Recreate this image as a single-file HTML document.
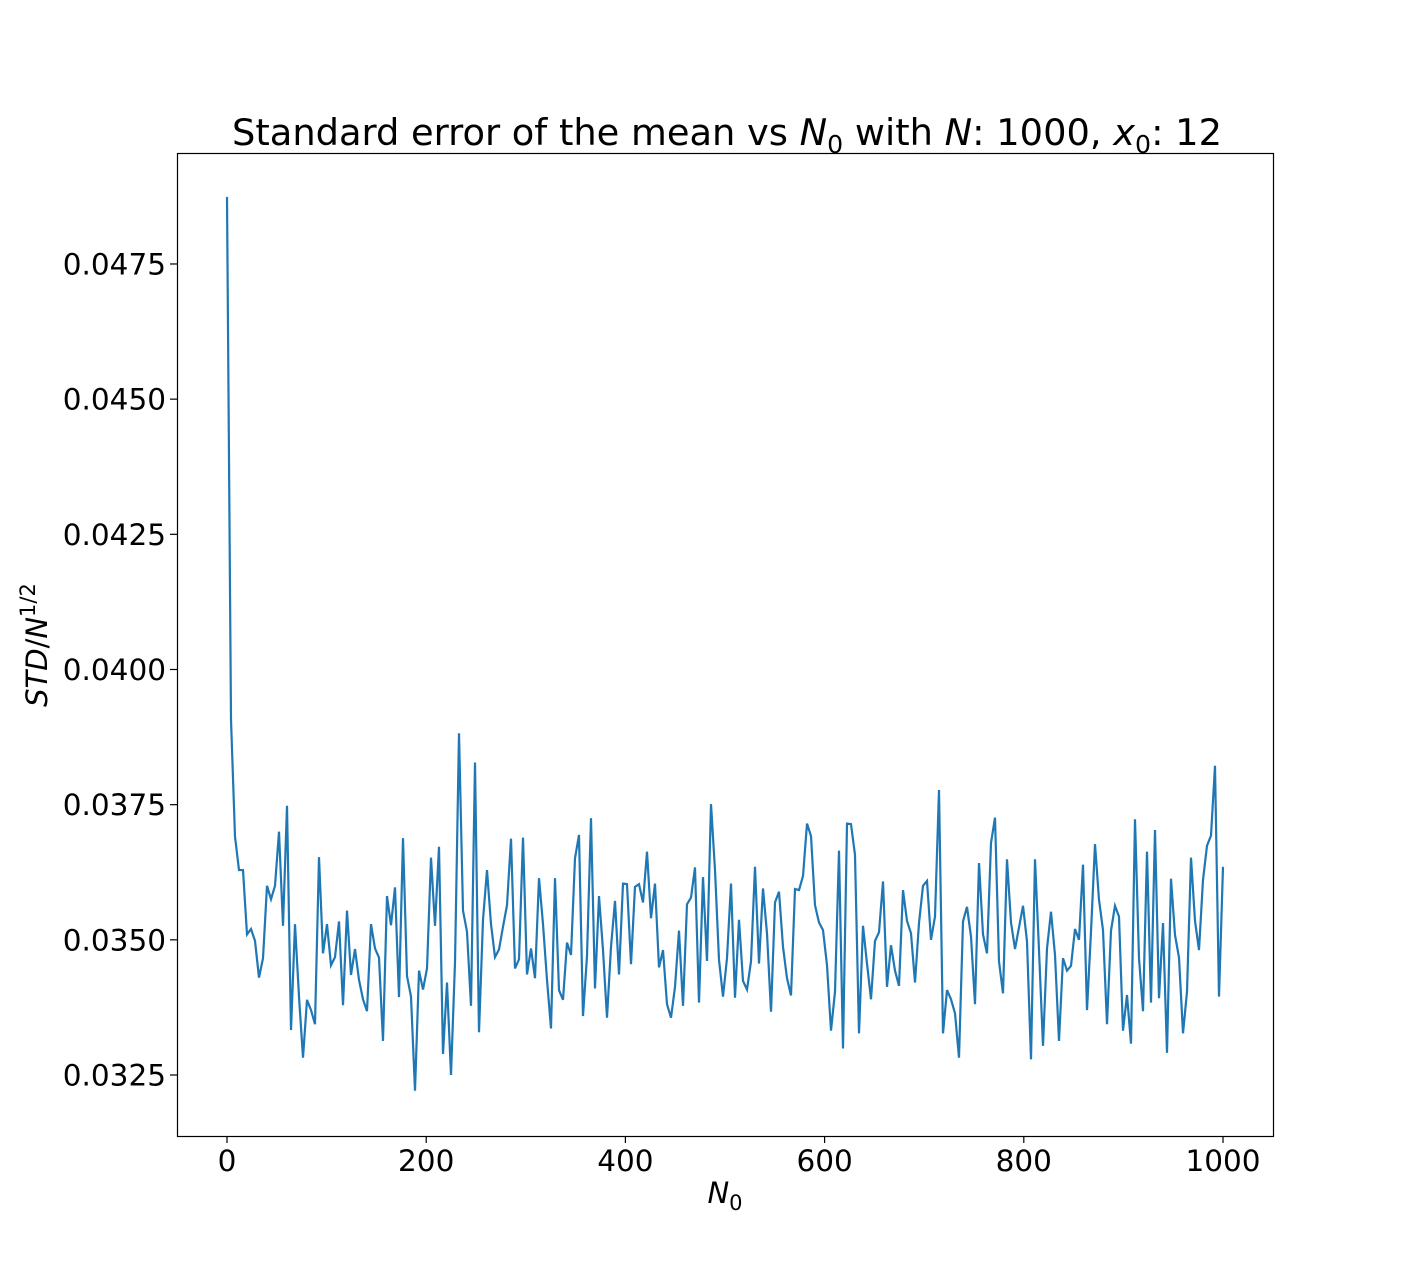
<!DOCTYPE html>
<html><head><meta charset="utf-8"><style>
body{margin:0;background:#fff}
svg{display:block;font-family:"DejaVu Sans","Liberation Sans",sans-serif}
</style></head><body>
<svg id="chart" width="1415" height="1276">
<rect x="0" y="0" width="1415" height="1276" fill="#fff"/>
<text x="727" y="145" font-size="36.5" text-anchor="middle" textLength="990" lengthAdjust="spacingAndGlyphs">Standard error of the mean vs <tspan font-style="italic">N</tspan><tspan font-size="25" dy="8">0</tspan><tspan dy="-8"> with </tspan><tspan font-style="italic">N</tspan>: 1000, <tspan font-style="italic">x</tspan><tspan font-size="25" dy="8">0</tspan><tspan dy="-8">: 12</tspan></text>
<g id="xticks"></g>
<g id="yticks"></g>
<path id="series" fill="none" stroke="#1f77b4" stroke-width="2.2"/>
<rect x="177.5" y="153.5" width="1096" height="983" fill="none" stroke="#000" stroke-width="1.2"/>
<text x="725" y="1203" font-size="29" text-anchor="middle"><tspan font-style="italic">N</tspan><tspan font-size="21" dy="7">0</tspan></text>
<text transform="translate(47,645) rotate(-90)" font-size="29" text-anchor="middle"><tspan font-style="italic">STD</tspan>/<tspan font-style="italic">N</tspan><tspan font-size="21" dy="-12">1/2</tspan></text>
</svg>
<script>
const xTicks=[0,200,400,600,800,1000];
const yTicks=[0.0325,0.0350,0.0375,0.0400,0.0425,0.0450,0.0475];
const yTickLabels=["0.0325","0.0350","0.0375","0.0400","0.0425","0.0450","0.0475"];
const seriesA=[0.04874,.03907,.03691,.03629,.03629,.03510,.03520,.03498,.03430,.03466,.03600,.03575,.03600,.03700,.03526,.03748,.03333,.03529,.03395,.03282,.03389,.03370,.03344,.03653,.03475,.03529,.03453,.03468,.03534,.03379,.03554,.03435,.03483,.03426,.03390,.03368,.03529,.03484,.03467,.03313,.03581,.03527,.03597,.03394,.03688,.03433,.03395,.03221,.03443,.03408,.03447,.03652,.03526,.03672,.03289,.03421,.03250,.03458,.03882,.03554,.03515,.03378,.03828,.03329];
const seriesB=[.03537,.03629,.03529,.03468,.03482,.03524,.03564,.03687,.03447,.03464,.03689,.03436,.03484,.03429,.03614,.03529,.03426,.03336,.03614,.03407,.03389,.03495,.03472,.03651,.03694,.03359,.03470,.03725,.03410,.03581,.03481,.03356,.03487,.03572,.03436,.03604,.03603,.03455,.03598,.03603,.03569,.03663,.03540,.03604,.03449,.03481,.03381,.03356,.03413,.03517,.03378,.03566,.03578,.03634,.03384,.03616,.03461,.03751,.03629,.03463,.03395,.03466,.03604];
const seriesC=[.03393,.03537,.03424,.03408,.03460,.03635,.03456,.03595,.03512,.03367,.03569,.03589,.03487,.03429,.03397,.03594,.03592,.03618,.03715,.03692,.03564,.03532,.03518,.03453,.03332,.03404,.03665,.03299,.03715,.03714,.03657,.03327,.03526,.03456,.03390,.03498,.03514,.03608,.03413,.03490,.03443,.03415,.03592,.03535,.03512,.03421,.03531,.03600,.03609,.03500,.03543,.03777,.03327,.03407,.03390,.03364,.03282,.03534,.03561,.03506,.03381,.03642];
const seriesD=[.03510,.03475,.03679,.03726,.03460,.03401,.03649,.03532,.03483,.03523,.03563,.03497,.03279,.03649,.03481,.03304,.03484,.03552,.03472,.03313,.03466,.03443,.03452,.03520,.03500,.03639,.03370,.03515,.03677,.03574,.03518,.03344,.03517,.03563,.03543,.03332,.03398,.03308,.03723,.03466,.03368,.03663,.03384,.03703,.03392,.03531,.03291,.03613,.03509,.03467,.03327,.03404,.03652,.03535,.03481,.03611,.03674,.03693,.03822,.03395,.03635];
const xMax=1000;
const ns="http://www.w3.org/2000/svg";
function sx(v){return 227+(v/1000)*996;}
function sy(v){return 1075-(v-0.0325)/0.0025*135.17;}
const values=seriesA.concat(seriesB,seriesC,seriesD);
let d="";
values.forEach((v,i)=>{const x=sx(i*xMax/(values.length-1));d+=(i?"L":"M")+x.toFixed(2)+","+sy(v).toFixed(2);});
document.getElementById("series").setAttribute("d",d);
const xg=document.getElementById("xticks");
xTicks.forEach(t=>{
  const l=document.createElementNS(ns,"line");
  
  
  l.setAttribute("x1",sx(t));l.setAttribute("x2",sx(t));l.setAttribute("y1",1136);l.setAttribute("y2",1143);l.setAttribute("stroke","#000");l.setAttribute("stroke-width","1.2");
  xg.appendChild(l);
  const tx=document.createElementNS(ns,"text");
  
  
  tx.setAttribute("x",sx(t));tx.setAttribute("y",1171);tx.setAttribute("font-size","29.5");tx.setAttribute("text-anchor","middle");
  tx.textContent=String(t);xg.appendChild(tx);
});
const yg=document.getElementById("yticks");
yTicks.forEach((t,i)=>{
  const l=document.createElementNS(ns,"line");
  
  
  l.setAttribute("x1",170);l.setAttribute("x2",177);l.setAttribute("y1",sy(t));l.setAttribute("y2",sy(t));l.setAttribute("stroke","#000");l.setAttribute("stroke-width","1.2");
  yg.appendChild(l);
  const tx=document.createElementNS(ns,"text");
  
  
  tx.setAttribute("x",166);tx.setAttribute("y",sy(t)+10.5);tx.setAttribute("font-size","29.5");tx.setAttribute("text-anchor","end");
  tx.textContent=yTickLabels[i];yg.appendChild(tx);
});
</script>
</body></html>
